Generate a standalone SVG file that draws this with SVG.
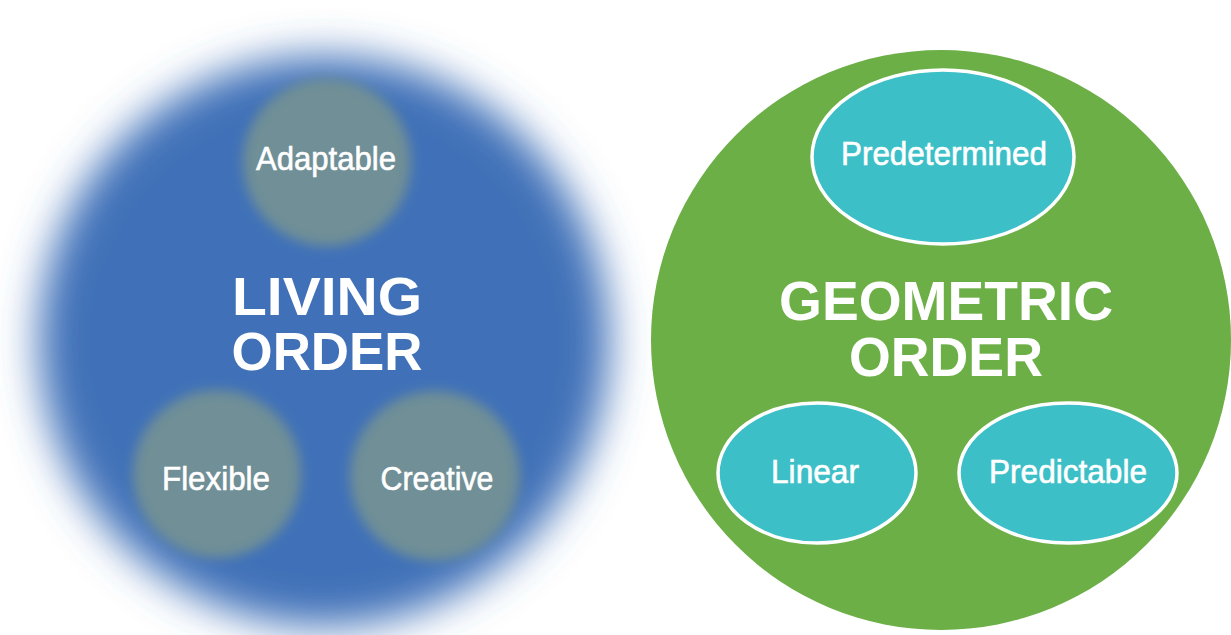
<svg xmlns="http://www.w3.org/2000/svg" width="1231" height="635" viewBox="0 0 1231 635">
  <style>
    .lbl { font-family: "Liberation Sans", Arial, sans-serif; font-size: 33px; fill: #ffffff; stroke: #ffffff; stroke-width: 0.6; }
    .ttl { font-family: "Liberation Sans", Arial, sans-serif; font-weight: bold; fill: #ffffff; }
    .soft { fill: #6F8F96; filter: url(#blurSmall); }
    .oval { fill: #3DBFC7; stroke: #ffffff; stroke-width: 3.5; }
  </style>
  <defs>
    <filter id="blurBig" x="-25%" y="-25%" width="150%" height="150%">
      <feGaussianBlur stdDeviation="21"/>
    </filter>
    <filter id="blurSmall" x="-20%" y="-20%" width="140%" height="140%">
      <feGaussianBlur stdDeviation="6"/>
    </filter>
  </defs>
  <rect x="0" y="0" width="1231" height="635" fill="#ffffff"/>

  <g id="living-order">
    <circle cx="324" cy="341" r="285" fill="#3F71B8" filter="url(#blurBig)"/>
    <text class="ttl" x="327" y="315" font-size="54" text-anchor="middle" textLength="190" lengthAdjust="spacingAndGlyphs">LIVING</text>
    <text class="ttl" x="327" y="370" font-size="54" text-anchor="middle" textLength="191" lengthAdjust="spacingAndGlyphs">ORDER</text>
  </g>
  <g id="adaptable">
    <circle class="soft" cx="327" cy="162" r="84"/>
    <text class="lbl" x="326" y="170" text-anchor="middle" textLength="140" lengthAdjust="spacingAndGlyphs">Adaptable</text>
  </g>
  <g id="flexible">
    <circle class="soft" cx="217" cy="474" r="84"/>
    <text class="lbl" x="216" y="490" text-anchor="middle" textLength="108" lengthAdjust="spacingAndGlyphs">Flexible</text>
  </g>
  <g id="creative">
    <circle class="soft" cx="435" cy="476" r="85"/>
    <text class="lbl" x="437" y="490" text-anchor="middle" textLength="113" lengthAdjust="spacingAndGlyphs">Creative</text>
  </g>

  <g id="geometric-order">
    <circle cx="941" cy="340" r="290" fill="#6CAF46"/>
    <text class="ttl" x="946" y="320" font-size="55" text-anchor="middle" textLength="334" lengthAdjust="spacingAndGlyphs">GEOMETRIC</text>
    <text class="ttl" x="946" y="376" font-size="55" text-anchor="middle" textLength="194" lengthAdjust="spacingAndGlyphs">ORDER</text>
  </g>
  <g id="predetermined">
    <ellipse class="oval" cx="943" cy="157" rx="131" ry="87"/>
    <text class="lbl" x="944" y="165" text-anchor="middle" textLength="206" lengthAdjust="spacingAndGlyphs">Predetermined</text>
  </g>
  <g id="linear">
    <ellipse class="oval" cx="817" cy="473" rx="99" ry="70"/>
    <text class="lbl" x="815" y="483" text-anchor="middle" textLength="88" lengthAdjust="spacingAndGlyphs">Linear</text>
  </g>
  <g id="predictable">
    <ellipse class="oval" cx="1068" cy="473" rx="109" ry="70"/>
    <text class="lbl" x="1068" y="483" text-anchor="middle" textLength="158" lengthAdjust="spacingAndGlyphs">Predictable</text>
  </g>

  <g id="connectors"/>
</svg>
